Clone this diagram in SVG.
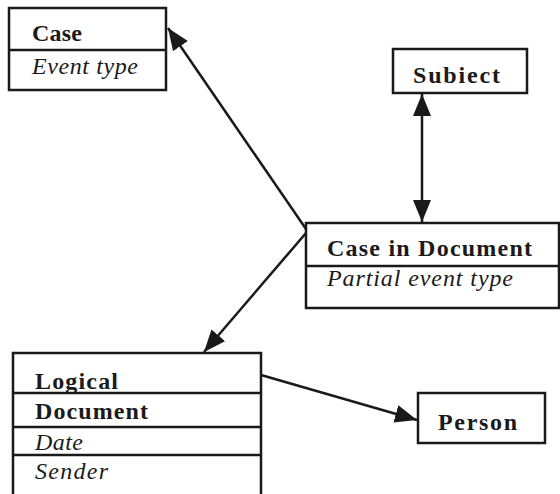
<svg xmlns="http://www.w3.org/2000/svg" width="560" height="494" viewBox="0 0 560 494">
<style>
rect.box{fill:#fff;stroke:#1a1a1a;stroke-width:2.5}
line.div{stroke:#1a1a1a;stroke-width:2.5}
.b{font-weight:bold}
.i{font-style:italic}
.conn line{stroke:#1a1a1a;stroke-width:2.5}
</style>
<defs>
<marker id="ah" markerUnits="userSpaceOnUse" markerWidth="24" markerHeight="20" refX="22" refY="9" orient="auto-start-reverse">
<path d="M0,0 L22,9 L0,18 Z" fill="#1a1a1a"/>
</marker>
</defs>
<g class="conn">
<line x1="306" y1="229" x2="168" y2="28" marker-end="url(#ah)"/>
<line x1="422" y1="94" x2="422" y2="222" marker-start="url(#ah)" marker-end="url(#ah)"/>
<line x1="306" y1="233" x2="204" y2="352" marker-end="url(#ah)"/>
<line x1="261" y1="375" x2="417" y2="420" marker-end="url(#ah)"/>
</g>
<g font-family="Liberation Serif, Times New Roman, serif" font-size="24" fill="#1a1a1a" lengthAdjust="spacingAndGlyphs">
<g id="case">
<rect class="box" x="9" y="8" width="157" height="82"/>
<line class="div" x1="9" y1="50" x2="166" y2="50"/>
<text class="b" x="32" y="41" textLength="50">Case</text>
<text class="i" x="32" y="74" textLength="106">Event type</text>
</g>
<g id="subject">
<rect class="box" x="393" y="49" width="134" height="44"/>
<text class="b" x="413" y="83" textLength="87">Subiect</text>
</g>
<g id="case-in-document">
<rect class="box" x="306" y="223" width="253" height="85"/>
<line class="div" x1="306" y1="266" x2="559" y2="266"/>
<text class="b" x="327" y="256" textLength="205">Case in Document</text>
<text class="i" x="327" y="286" textLength="186">Partial event type</text>
</g>
<g id="logical-document">
<rect class="box" x="13" y="353" width="248" height="150"/>
<line class="div" x1="13" y1="393" x2="261" y2="393"/>
<line class="div" x1="13" y1="427" x2="261" y2="427"/>
<line class="div" x1="13" y1="455" x2="261" y2="455"/>
<text class="b" x="35" y="389" textLength="83">Logical</text>
<text class="b" x="35" y="419" textLength="113">Document</text>
<text class="i" x="35" y="450" textLength="48">Date</text>
<text class="i" x="35" y="479" textLength="73">Sender</text>
</g>
<g id="person">
<rect class="box" x="418" y="393" width="127" height="50"/>
<text class="b" x="438" y="430" textLength="79">Person</text>
</g>
</g>
</svg>
